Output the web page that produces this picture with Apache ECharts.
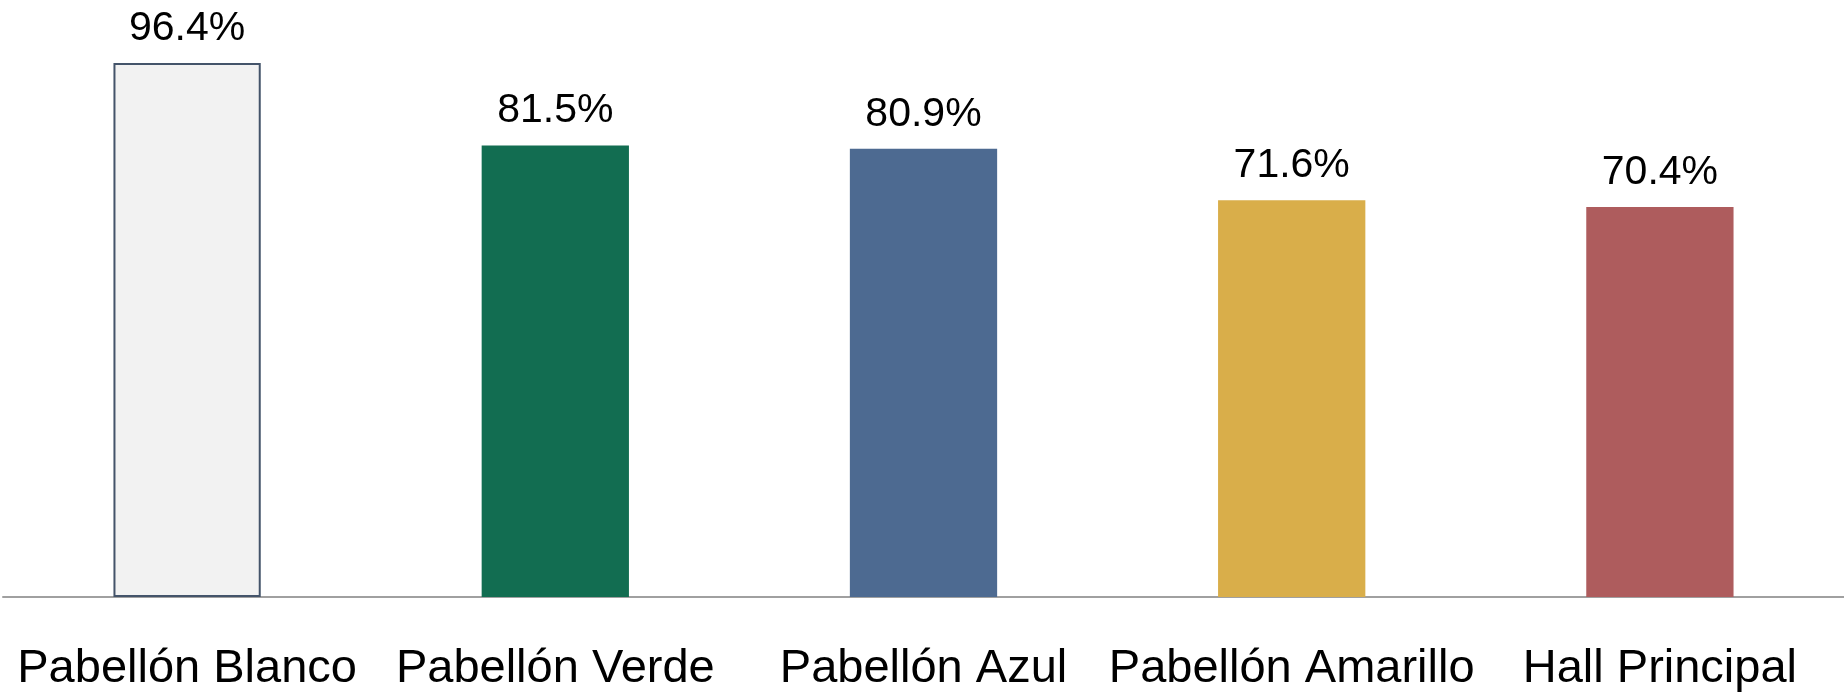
<!DOCTYPE html>
<html>
<head>
<meta charset="utf-8">
<script src="https://cdn.jsdelivr.net/npm/echarts@6/dist/echarts.min.js"></script>
<style>
    html, body { margin: 0; padding: 0; background: #fff; }
    #chart { width: 1844px; height: 693px; }
</style>
</head>
<body>
<div id="chart"></div>
<script>
// datos del gráfico
var categories = ["Pabellón Blanco", "Pabellón Verde", "Pabellón Azul", "Pabellón Amarillo", "Hall Principal"];
var values = [96.4, 81.5, 80.9, 71.6, 70.4];
var barColors = ["#f2f2f2", "#126d51", "#4d6a91", "#d9ae4a", "#ae5c5d"];

var myChart = echarts.init(document.getElementById("chart"));

var seriesData = [];
for (var i = 0; i < values.length; i++) {
    var item = {value: values[i], itemStyle: {color: barColors[i]}};
    // la primera barra lleva borde
    if (i === 0) {
        item.itemStyle.borderColor = "#44546a";
        item.itemStyle.borderWidth = 2;
    }
    seriesData.push(item);
}

var option = {
    animation: false,
    grid: {left: 3, right: 0, top: 43, bottom: 96, containLabel: false},
    xAxis: {
        type: "category",
        data: categories,
        axisLine: {lineStyle: {color: "#a0a0a0", width: 2}},
        axisTick: {show: false},
        axisLabel: {
            interval: 0,
            margin: 49,
            fontSize: 47,
            color: "#000",
            fontFamily: "Liberation Sans"
        }
    },
    yAxis: {
        type: "value",
        min: 0,
        max: 100,
        show: false,
        splitLine: {show: false}
    },
    series: [{
        type: "bar",
        data: seriesData,
        barWidth: "40%",
        label: {
            show: true,
            position: "top",
            distance: 14,
            fontSize: 41,
            color: "#000",
            fontFamily: "Liberation Sans",
            formatter: function (p) {
                return p.value.toFixed(1) + "%";
            }
        }
    }]
};
myChart.setOption(option);
</script>
</body>
</html>
